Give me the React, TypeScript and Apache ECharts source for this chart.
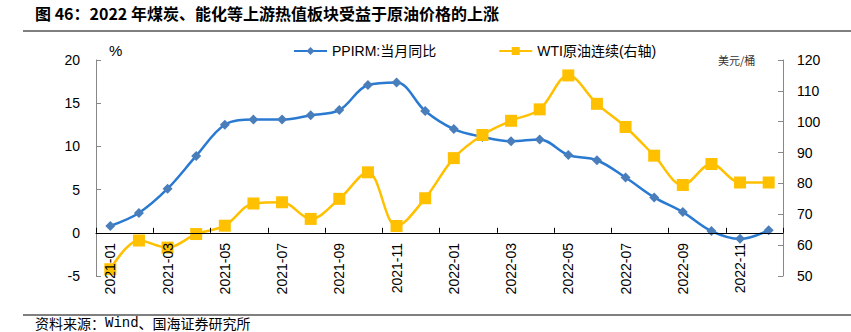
import React, { useEffect, useRef } from "react";
import * as echarts from "echarts";

const categories = [
  "2021-01", "2021-02", "2021-03", "2021-04", "2021-05", "2021-06",
  "2021-07", "2021-08", "2021-09", "2021-10", "2021-11", "2021-12",
  "2022-01", "2022-02", "2022-03", "2022-04", "2022-05", "2022-06",
  "2022-07", "2022-08", "2022-09", "2022-10", "2022-11", "2022-12",
];
const ppirm = [
  0.8, 2.3, 5.1, 8.9, 12.5, 13.1, 13.1, 13.6, 14.2, 17.1, 17.4, 14.1,
  12.0, 11.1, 10.6, 10.8, 9.0, 8.4, 6.4, 4.1, 2.4, 0.2, -0.7, 0.3,
];
const wti = [
  52.2, 61.5, 59.2, 63.6, 66.3, 73.5, 73.9, 68.5, 75.0, 83.6, 66.2, 75.2,
  88.2, 95.7, 100.3, 104.0, 115.0, 105.8, 98.3, 89.0, 79.5, 86.3, 80.3, 80.3,
];
const seriesNames = ["PPIRM:当月同比", "WTI原油连续(右轴)"];
const titleText = "图 46：2022 年煤炭、能化等上游热值板块受益于原油价格的上涨";
const sourceParts = ["资料来源：", "Wind", "、国海证券研究所"];
const leftUnit = "%";
const rightUnit = "美元/桶";

const SANS = "'Liberation Sans', Arial, 'Noto Sans CJK SC', sans-serif";
const CJK = "'Noto Sans CJK SC', sans-serif";
const MONO = "'Liberation Mono', 'DejaVu Sans Mono', monospace";

export default function App() {
  const ref = useRef<HTMLDivElement>(null);
  useEffect(() => {
    if (!ref.current) return;
    const chart = echarts.init(ref.current, null, { renderer: "svg" });
    chart.setOption({
      animation: false,
      backgroundColor: "#fff",
      textStyle: { fontFamily: SANS },
      grid: { left: 96, right: 68, top: 60, bottom: 56, containLabel: false },
      legend: {
        left: 288,
        top: 39,
        itemWidth: 33,
        itemHeight: 10,
        itemGap: 62,
        textStyle: { fontSize: 14, color: "#000", fontFamily: SANS },
        data: seriesNames,
      },
      xAxis: {
        type: "category",
        data: categories,
        boundaryGap: true,
        z: 6,
        axisLine: { onZero: true, lineStyle: { color: "#000", width: 1 } },
        axisTick: { show: true, inside: true, interval: 1, length: 5, lineStyle: { color: "#000" } },
        axisLabel: {
          interval: 1,
          rotate: 90,
          fontSize: 14,
          color: "#000",
          margin: -33,
          fontFamily: SANS,
        },
        splitLine: { show: false },
      },
      yAxis: [
        {
          type: "value",
          min: -5,
          max: 20,
          interval: 5,
          axisLine: { show: true, lineStyle: { color: "#888" } },
          axisTick: { show: true, inside: true, length: 5, lineStyle: { color: "#888" } },
          axisLabel: { fontSize: 14, color: "#000", margin: 16, fontFamily: SANS },
          splitLine: { show: false },
        },
        {
          type: "value",
          min: 50,
          max: 120,
          interval: 10,
          position: "right",
          axisLine: { show: true, lineStyle: { color: "#888" } },
          axisTick: { show: true, inside: true, length: 5, lineStyle: { color: "#888" } },
          axisLabel: { fontSize: 14, color: "#000", margin: 14, fontFamily: SANS },
          splitLine: { show: false },
        },
      ],
      series: [
        {
          name: seriesNames[0],
          type: "line",
          data: ppirm,
          yAxisIndex: 0,
          smooth: 0.35,
          symbol: "diamond",
          symbolSize: 10,
          lineStyle: { color: "#2a7ad2", width: 2.5 },
          itemStyle: { color: "#4a7ebb" },
          z: 3,
        },
        {
          name: seriesNames[1],
          type: "line",
          data: wti,
          yAxisIndex: 1,
          smooth: 0.35,
          symbol: "rect",
          symbolSize: 12,
          lineStyle: { color: "#ffc000", width: 2.5 },
          itemStyle: { color: "#ffc000" },
          z: 4,
        },
      ],
      graphic: [
        {
          type: "text",
          left: 35,
          top: 5,
          style: { text: titleText, font: `bold 16px ${CJK}`, fill: "#000" },
        },
        {
          type: "line",
          shape: { x1: 23, y1: 31, x2: 851, y2: 31 },
          style: { stroke: "#000", lineWidth: 1 },
        },
        {
          type: "text",
          left: 109,
          top: 43,
          style: { text: leftUnit, font: `15px ${SANS}`, fill: "#000" },
        },
        {
          type: "text",
          left: 718,
          top: 54,
          style: { text: rightUnit, font: `11px ${CJK}`, fill: "#333" },
        },
        {
          type: "line",
          shape: { x1: 23, y1: 315, x2: 851, y2: 315 },
          style: { stroke: "#000", lineWidth: 1 },
        },
        {
          type: "text",
          left: 35,
          top: 316,
          style: {
            text: `{a|${sourceParts[0]}}{m|${sourceParts[1]}}{a|${sourceParts[2]}}`,
            rich: {
              a: { fontFamily: CJK, fontSize: 14, fill: "#000", lineHeight: 15 },
              m: { fontFamily: MONO, fontSize: 14, fill: "#000", lineHeight: 15 },
            },
          },
        },
      ],
    });
    return () => chart.dispose();
  }, []);
  return <div ref={ref} style={{ width: 851, height: 332, position: "absolute", left: 0, top: 0 }} />;
}
